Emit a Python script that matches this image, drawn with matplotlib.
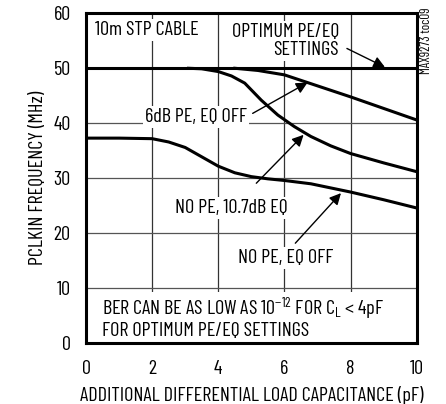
import matplotlib
matplotlib.use("Agg")
import matplotlib.pyplot as plt

plt.rcParams['font.family'] = ['Barlow Condensed', 'Archivo Narrow', 'Liberation Sans', 'DejaVu Sans']
plt.rcParams['mathtext.default'] = 'regular'

# curve data (pF, MHz)
opt_x = [0, 10]
opt_y = [50, 50]

pe6_x = [4.5, 5.2, 6.0, 6.7, 7.4, 8.0, 9.0, 10.0]
pe6_y = [50.0, 49.6, 48.8, 47.4, 46.0, 44.8, 42.7, 40.6]

eq107_x = [3.1, 3.5, 4.0, 4.4, 4.8, 5.3, 5.8, 6.3, 6.8, 7.4, 8.0, 9.0, 10.0]
eq107_y = [50.0, 49.9, 49.4, 48.6, 47.3, 44.2, 41.5, 39.4, 37.6, 35.9, 34.5, 32.8, 31.2]

off_x = [0, 1.0, 2.0, 2.5, 3.0, 3.5, 4.0, 4.5, 5.0, 5.5, 6.0, 6.8, 8.0, 9.0, 10.0]
off_y = [37.3, 37.3, 37.2, 36.6, 35.6, 33.9, 32.2, 31.0, 30.3, 29.9, 29.6, 29.0, 27.5, 26.1, 24.6]

xticks = [0, 2, 4, 6, 8, 10]
yticks = [0, 10, 20, 30, 40, 50, 60]

fig = plt.figure(figsize=(4.46, 4.04), dpi=100)
ax = fig.add_axes([0.1928, 0.1502, 0.7415, 0.817])

for x in [2, 4, 6, 8]:
    ax.axvline(x, color='#333333', lw=0.9, zorder=1)
for y in [10, 20, 30, 40]:
    ax.axhline(y, color='#555555', lw=0.9, zorder=1)

lw = 2.2
ax.plot(opt_x, opt_y, color='black', lw=lw, zorder=3)
ax.plot(pe6_x, pe6_y, color='black', lw=lw, zorder=3)
ax.plot(eq107_x, eq107_y, color='black', lw=lw, zorder=3)
ax.plot(off_x, off_y, color='black', lw=lw, zorder=3)

fs = 14.5
box = dict(facecolor='white', edgecolor='none', pad=1.5)
ax.text(0.27, 57.0, '10m STP CABLE', fontsize=fs, ha='left', va='center', bbox=box, zorder=2)
ax.text(7.65, 55.0, 'OPTIMUM PE/EQ\nSETTINGS', fontsize=fs, ha='right', va='center',
        multialignment='right', linespacing=1.0, bbox=box, zorder=2)
ax.text(3.33, 41.1, '6dB PE, EQ OFF', fontsize=fs, ha='center', va='center', bbox=box, zorder=2)
ax.text(4.38, 24.6, 'NO PE, 10.7dB EQ', fontsize=fs, ha='center', va='center', bbox=box, zorder=2)
ax.text(6.05, 15.5, 'NO PE, EQ OFF', fontsize=fs, ha='center', va='center', bbox=box, zorder=2)
ax.text(0.47, 4.6, 'BER CAN BE AS LOW AS 10$^{-12}$ FOR C$_L$ < 4pF\nFOR OPTIMUM PE/EQ SETTINGS',
        fontsize=fs, ha='left', va='center', linespacing=1.05, bbox=box, zorder=2)

arrow = dict(arrowstyle='-|>', color='black', lw=1.0, mutation_scale=17, shrinkA=0, shrinkB=0)
ax.annotate('', xy=(9.04, 50.2), xytext=(7.89, 53.6), arrowprops=arrow, zorder=4)
ax.annotate('', xy=(6.7, 47.4), xytext=(5.04, 41.8), arrowprops=arrow, zorder=4)
ax.annotate('', xy=(6.58, 37.9), xytext=(5.15, 29.1), arrowprops=arrow, zorder=4)
ax.annotate('', xy=(7.71, 27.3), xytext=(6.33, 18.2), arrowprops=arrow, zorder=4)

ax.set_xlim(0, 10)
ax.set_ylim(0, 60)
ax.set_xticks(xticks)
ax.set_yticks(yticks)
ax.tick_params(length=0, labelsize=fs, pad=12)
ax.tick_params(axis='y', pad=11)
for s in ax.spines.values():
    s.set_linewidth(2.2)
    s.set_zorder(5)

ax.set_xlabel('ADDITIONAL DIFFERENTIAL LOAD CAPACITANCE (pF)', fontsize=fs, labelpad=6)
ax.set_ylabel('PCLKIN FREQUENCY (MHz)', fontsize=fs, labelpad=5)

fig.text(427 / 446, 1 - 8 / 404, 'MAX9273 toc09', fontsize=9.5, rotation=90,
         ha='center', va='top')

fig.savefig('out.png', dpi=100)
